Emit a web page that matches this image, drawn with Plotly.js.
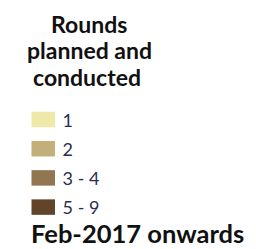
<!DOCTYPE html>
<html>
<head>
<meta charset="utf-8">
<script src="https://cdn.plot.ly/plotly-3.0.1.min.js"></script>
<style>html,body{margin:0;padding:0;background:#fff;}#chart{width:256px;height:249px;}</style>
</head>
<body>
<div id="chart"></div>
<script>
// Legend classes (rounds planned and conducted)
const categories = ["1", "2", "3 - 4", "5 - 9"];
const swatchValues = [1, 1, 1, 1];
const swatchColors = ["#efe9a9", "#c2af7a", "#927651", "#624429"];
const titleLines = ["Rounds", "planned and", "conducted"];
const footerText = "Feb-2017 onwards";

const W = 256, H = 249;
const px = v => v / W;
const py = v => 1 - v / H;

const trace = {
  type: "bar",
  orientation: "h",
  y: categories.map((c, i) => i),
  x: swatchValues,
  base: 0,
  width: 0.53,
  marker: {color: swatchColors, line: {width: 0}},
  text: categories.map(c => " " + c),
  textposition: "outside",
  constraintext: "none",
  cliponaxis: false,
  textfont: {family: "Lato", size: 18, color: "#2a2d52"},
  hoverinfo: "skip"
};

const titleFont = {family: "Lato", size: 23, color: "#111111"};
const annotations = [
  {text: "<b>" + titleLines[0] + "</b>", x: px(89), y: py(24), xanchor: "center", yanchor: "middle"},
  {text: "<b>" + titleLines[1] + "</b>", x: px(89), y: py(50.5), xanchor: "center", yanchor: "middle"},
  {text: "<b>" + titleLines[2] + "</b>", x: px(87), y: py(77), xanchor: "center", yanchor: "middle"},
  {text: "<b>" + footerText + "</b>", x: px(30), y: 0, xanchor: "left", yanchor: "bottom", font: {family: "Lato", size: 25.5, color: "#111111"}}
].map(a => Object.assign({xref: "paper", yref: "paper", showarrow: false, borderpad: 0, font: titleFont}, a));

const unitPx = 29.2, firstCenter = 119.5;
const layout = {
  width: W, height: H,
  margin: {l: 0, r: 0, t: 0, b: 0, pad: 0},
  paper_bgcolor: "#ffffff",
  plot_bgcolor: "#ffffff",
  showlegend: false,
  xaxis: {range: [-31.5 / 23.5, (W - 31.5) / 23.5], visible: false, fixedrange: true},
  yaxis: {range: [(H - firstCenter) / unitPx, -firstCenter / unitPx], visible: false, fixedrange: true},
  annotations: annotations
};

Plotly.newPlot("chart", [trace], layout, {displayModeBar: false, staticPlot: true});
</script>
</body>
</html>
